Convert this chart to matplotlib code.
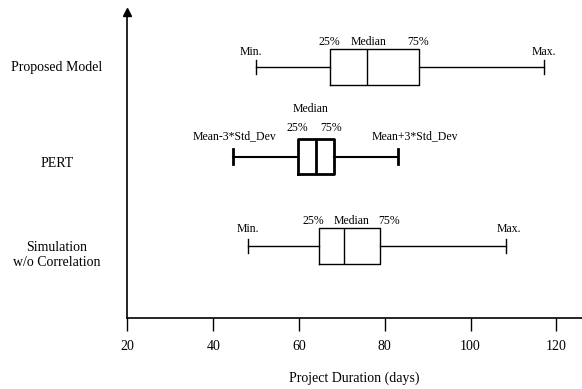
import matplotlib
matplotlib.use("Agg")
import matplotlib.pyplot as plt

plt.rcParams['font.family'] = ['Liberation Serif', 'DejaVu Serif']

# 数据 (从图中读取, 单位: 天)
models = ["Proposed Model", "PERT", "Simulation\nw/o Correlation"]
positions = [3, 2, 1]
whis_lo = [50, 44.7, 48]
q1 = [67.2, 59.7, 64.7]
medians = [75.8, 63.9, 70.5]
q3 = [88.1, 68.1, 79.0]
whis_hi = [117.2, 83.1, 108.2]
xticks = [20, 40, 60, 80, 100, 120]

# 各箱线图的注释文字: (文字, 参考值, x偏移px, y偏移px)
notes = [
    [("Min.", whis_lo[0], -5, 15), ("25%", q1[0], -1, 25), ("Median", medians[0], 2, 25),
     ("75%", q3[0], -1, 25), ("Max.", whis_hi[0], 0, 15)],
    [("Mean-3*Std_Dev", whis_lo[1], 1, 20), ("25%", q1[1], 0, 29), ("Median", medians[1], -5, 48),
     ("75%", q3[1], -3, 29), ("Mean+3*Std_Dev", whis_hi[1], 17, 20)],
    [("Min.", whis_lo[2], 0, 17), ("25%", q1[2], -6, 25), ("Median", medians[2], 8, 25),
     ("75%", q3[2], 9, 25), ("Max.", whis_hi[2], 3, 17)],
]
label_dy = [0, 7, 9]

stats = []
for i in range(len(models)):
    stats.append({"whislo": whis_lo[i], "q1": q1[i], "med": medians[i],
                  "q3": q3[i], "whishi": whis_hi[i], "fliers": []})

fig = plt.figure(figsize=(5.82, 3.89), dpi=100)
ax = fig.add_axes([0.219, 0.1825, 0.781, 0.7865])

bp = ax.bxp(stats, positions=positions, widths=0.4, orientation='horizontal',
            showfliers=False, capwidths=0.16, patch_artist=False,
            boxprops=dict(color='black', linewidth=1.0),
            whiskerprops=dict(color='black', linewidth=1.0),
            capprops=dict(color='black', linewidth=1.0),
            medianprops=dict(color='black', linewidth=1.0))

# PERT 线条较粗
bp['boxes'][1].set_linewidth(2.0)
bp['medians'][1].set_linewidth(2.0)
for k in (2, 3):
    bp['whiskers'][k].set_linewidth(1.5)
    bp['caps'][k].set_linewidth(2.0)

ax.set_xlim(20, 126)
ax.set_ylim(0.196, 3.615)

for i, pos in enumerate(positions):
    for txt, xv, dx, dy in notes[i]:
        ax.annotate(txt, xy=(xv, pos), xytext=(dx, dy), textcoords='offset pixels',
                    ha='center', va='center', fontsize=8.5)
    ax.annotate(models[i], xy=(0, pos), xycoords=ax.get_yaxis_transform(),
                xytext=(-70.5, -label_dy[i]), textcoords='offset pixels',
                ha='center', va='center', fontsize=10, annotation_clip=False)

ax.set_yticks([])
ax.set_xticks(xticks)
ax.tick_params(axis='x', direction='out', length=9.5, width=1.0, pad=6, labelsize=10)
ax.set_xlabel("Project Duration (days)", fontsize=10, labelpad=14)

for s in ('top', 'right'):
    ax.spines[s].set_visible(False)
ax.spines['left'].set_linewidth(1.2)
ax.spines['bottom'].set_linewidth(1.2)

# y轴箭头
ax.plot([0], [1], marker='^', color='black', markersize=6, transform=ax.transAxes, clip_on=False)

plt.savefig('out.png', dpi=100)
